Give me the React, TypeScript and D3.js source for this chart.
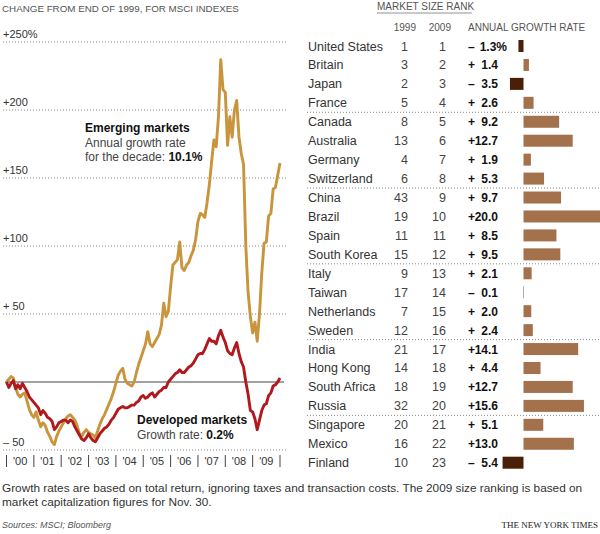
import React from "react";
import * as d3 from "d3";

// ---- Line chart data (monthly, Dec 1999 .. Dec 2009), % change from end of 1999
const emerging: number[] = [
  0, 2, 4, 3, -4, -9, -11, -9, -8, -14, -20, -24,
  -26, -22, -28, -33, -30, -32, -37, -40, -44, -46, -40, -36,
  -33, -30, -27, -25, -24, -26, -28, -32, -38, -40, -37, -35,
  -37, -38, -39, -41, -36, -31, -27, -24, -20, -16, -12, -7,
  -1, 5, 8, 10, 2, -1, -2, -3, 0, 7, 13, 18,
  23, 28, 37, 28, 26, 29, 32, 35, 42, 58, 48, 52,
  70, 86, 88, 90, 103, 84, 82, 86, 88, 93, 97, 105,
  118, 124, 123, 121, 132, 145, 162, 178, 173, 195, 237, 215,
  213, 174, 195, 180, 200, 207, 180, 168, 160, 100, 66, 48,
  36, 44, 30, 50, 80, 102, 103, 122, 124, 142, 143, 152,
  161,
];
const developed: number[] = [
  0, -4, -1, 1, -5, -2, -5, -1, -4, -7, -11, -13,
  -15, -17, -19, -24, -21, -23, -26, -27, -29, -35, -33, -30,
  -29, -28, -28, -30, -28, -29, -33, -36, -39, -42, -43, -41,
  -38, -41, -43, -44, -41, -38, -36, -34, -33, -31, -28, -26,
  -23, -20, -19, -18, -19, -19, -18, -17, -17, -15, -14, -11,
  -10, -12, -11, -9, -8, -11, -9, -7, -6, -4, -4, 0,
  2, 4, 6, 7, 9, 7, 7, 9, 11, 12, 14, 17,
  20, 21, 21, 24, 28, 32, 30, 30, 28, 34, 38, 33,
  29, 23, 21, 20, 25, 29, 21, 15, 11, 0, -9, -21,
  -22, -27, -35, -28, -21, -17, -16, -10, -8, -3, -2, 0,
  3,
];
const yTicks: number[] = [250, 200, 150, 100, 50, -50];
const yTickLabels: string[] = ["+250%", "+200", "+150", "+100", "+ 50", "\u2013 50"];
const yearLabels: string[] = ["'00", "'01", "'02", "'03", "'04", "'05", "'06", "'07", "'08", "'09"];

// ---- Table data
const countries: string[] = [
  "United States", "Britain", "Japan", "France",
  "Canada", "Australia", "Germany", "Switzerland",
  "China", "Brazil", "Spain", "South Korea",
  "Italy", "Taiwan", "Netherlands", "Sweden",
  "India", "Hong Kong", "South Africa", "Russia",
  "Singapore", "Mexico", "Finland",
];
const rank1999: number[] = [1, 3, 2, 5, 8, 13, 4, 6, 43, 19, 11, 15, 9, 17, 7, 12, 21, 14, 18, 32, 20, 16, 10];
const rank2009: number[] = [1, 2, 3, 4, 5, 6, 7, 8, 9, 10, 11, 12, 13, 14, 15, 16, 17, 18, 19, 20, 21, 22, 23];
const growth: number[] = [-1.3, 1.4, -3.5, 2.6, 9.2, 12.7, 1.9, 5.3, 9.7, 20.0, 8.5, 9.5, 2.1, -0.1, 2.0, 2.4, 14.1, 4.4, 12.7, 15.6, 5.1, 13.0, -5.4];

const FONT = "'Liberation Sans', Arial, Helvetica, sans-serif";
const GOLD = "#c8953c";
const RED = "#b0191d";
const POS = "#a3714b";
const NEG = "#4a1f08";

export default function App() {
  const W = 600, H = 534;
  const x = d3.scaleLinear().domain([0, 120]).range([6.5, 280]);
  const y = d3.scaleLinear().domain([-50, 250]).range([450, 42]);
  const line = d3.line<number>().x((_, i) => x(i)).y((d) => y(d));
  const yearTicks = d3.range(0, 121, 12);

  const rowY = d3.scaleLinear().domain([0, countries.length - 1]).range([46, 462.7]);
  const bx = d3.scaleLinear().domain([0, 20]).range([523.5, 601]);
  const barH = 12;

  return (
    <svg width={W} height={H} style={{ position: "absolute", left: 0, top: 0, background: "#fff" }} fontFamily={FONT}>
      {/* Header left */}
      <text x={2} y={12} fontSize={9.8} fill="#555">CHANGE FROM END OF 1999, FOR MSCI INDEXES</text>

      {/* Grid lines */}
      {yTicks.map((t, i) => (
        <g key={t}>
          <line x1={3} x2={286} y1={y(t)} y2={y(t)} stroke="#888" strokeWidth={1} strokeDasharray="1,2" />
          <text x={3} y={y(t) - 4.5} fontSize={11} fill="#333">{yTickLabels[i]}</text>
        </g>
      ))}
      <line x1={5} x2={284} y1={y(0)} y2={y(0)} stroke="#444" strokeWidth={1} />

      {/* X axis */}
      {yearTicks.map((t) => (
        <line key={t} x1={x(t)} x2={x(t)} y1={455} y2={467} stroke="#444" strokeWidth={1} />
      ))}
      {yearLabels.map((l, k) => (
        <text key={l} x={(x(k * 12) + x(k * 12 + 12)) / 2} y={465} fontSize={11} fill="#333" textAnchor="middle">{l}</text>
      ))}

      {/* Lines */}
      <path d={line(emerging) || ""} fill="none" stroke={GOLD} strokeWidth={2.9} strokeLinejoin="round" />
      <path d={line(developed) || ""} fill="none" stroke={RED} strokeWidth={2.9} strokeLinejoin="round" />

      {/* Annotations */}
      <text x={85} y={132} fontSize={12} fontWeight="bold" fill="#111">Emerging markets</text>
      <text x={85} y={147} fontSize={12} fill="#444">Annual growth rate</text>
      <text x={85} y={161} fontSize={12} fill="#444">for the decade: <tspan fontWeight="bold" fill="#111">10.1%</tspan></text>
      <text x={137} y={424} fontSize={12} fontWeight="bold" fill="#111">Developed markets</text>
      <text x={137} y={439} fontSize={12} fill="#444">Growth rate: <tspan fontWeight="bold" fill="#111">0.2%</tspan></text>

      {/* Table header */}
      <text x={377} y={10} fontSize={10} fill="#555">MARKET SIZE RANK</text>
      <line x1={377} x2={472} y1={13} y2={13} stroke="#777" strokeWidth={0.8} />
      <text x={416} y={31} fontSize={10} fill="#555" textAnchor="end">1999</text>
      <text x={451} y={31} fontSize={10} fill="#555" textAnchor="end">2009</text>
      <text x={468} y={31} fontSize={10} fill="#555">ANNUAL GROWTH RATE</text>

      {/* Table rows */}
      {countries.map((c, i) => {
        const cy = rowY(i);
        const g = growth[i];
        const sign = g < 0 ? "\u2013" : "+";
        const num = Math.abs(g).toFixed(1);
        return (
          <g key={c}>
            <text x={308} y={cy + 4.5} fontSize={12.5} fill="#333">{c}</text>
            <text x={408} y={cy + 4.5} fontSize={12.5} fill="#444" textAnchor="end">{rank1999[i]}</text>
            <text x={446} y={cy + 4.5} fontSize={12.5} fill="#444" textAnchor="end">{rank2009[i]}</text>
            <text x={468} y={cy + 4.5} fontSize={12} fontWeight="bold" fill="#111">{sign}</text>
            <text x={i === 0 ? 507 : 498} y={cy + 4.5} fontSize={12} fontWeight="bold" fill="#111" textAnchor="end">{i === 0 ? num + "%" : num}</text>
            <rect
              x={Math.min(bx(0), bx(g))}
              y={cy - barH / 2}
              width={Math.abs(bx(g) - bx(0))}
              height={barH}
              fill={g < 0 ? NEG : POS}
            />
            {i % 4 === 3 && i < countries.length - 1 && (
              <line x1={307} x2={600} y1={(cy + rowY(i + 1)) / 2} y2={(cy + rowY(i + 1)) / 2} stroke="#888" strokeWidth={1} strokeDasharray="1,2" />
            )}
          </g>
        );
      })}

      {/* Footer */}
      <text x={2} y={492} fontSize={11.8} fill="#333">Growth rates are based on total return, ignoring taxes and transaction costs. The 2009 size ranking is based on</text>
      <text x={2} y={506} fontSize={11.8} fill="#333">market capitalization figures for Nov. 30.</text>
      <text x={2} y={528} fontSize={9} fill="#555" fontStyle="italic">Sources: MSCI; Bloomberg</text>
      <text x={598} y={528} fontSize={9} fill="#222" textAnchor="end" fontFamily="'Liberation Serif', 'Times New Roman', serif">THE NEW YORK TIMES</text>
    </svg>
  );
}
